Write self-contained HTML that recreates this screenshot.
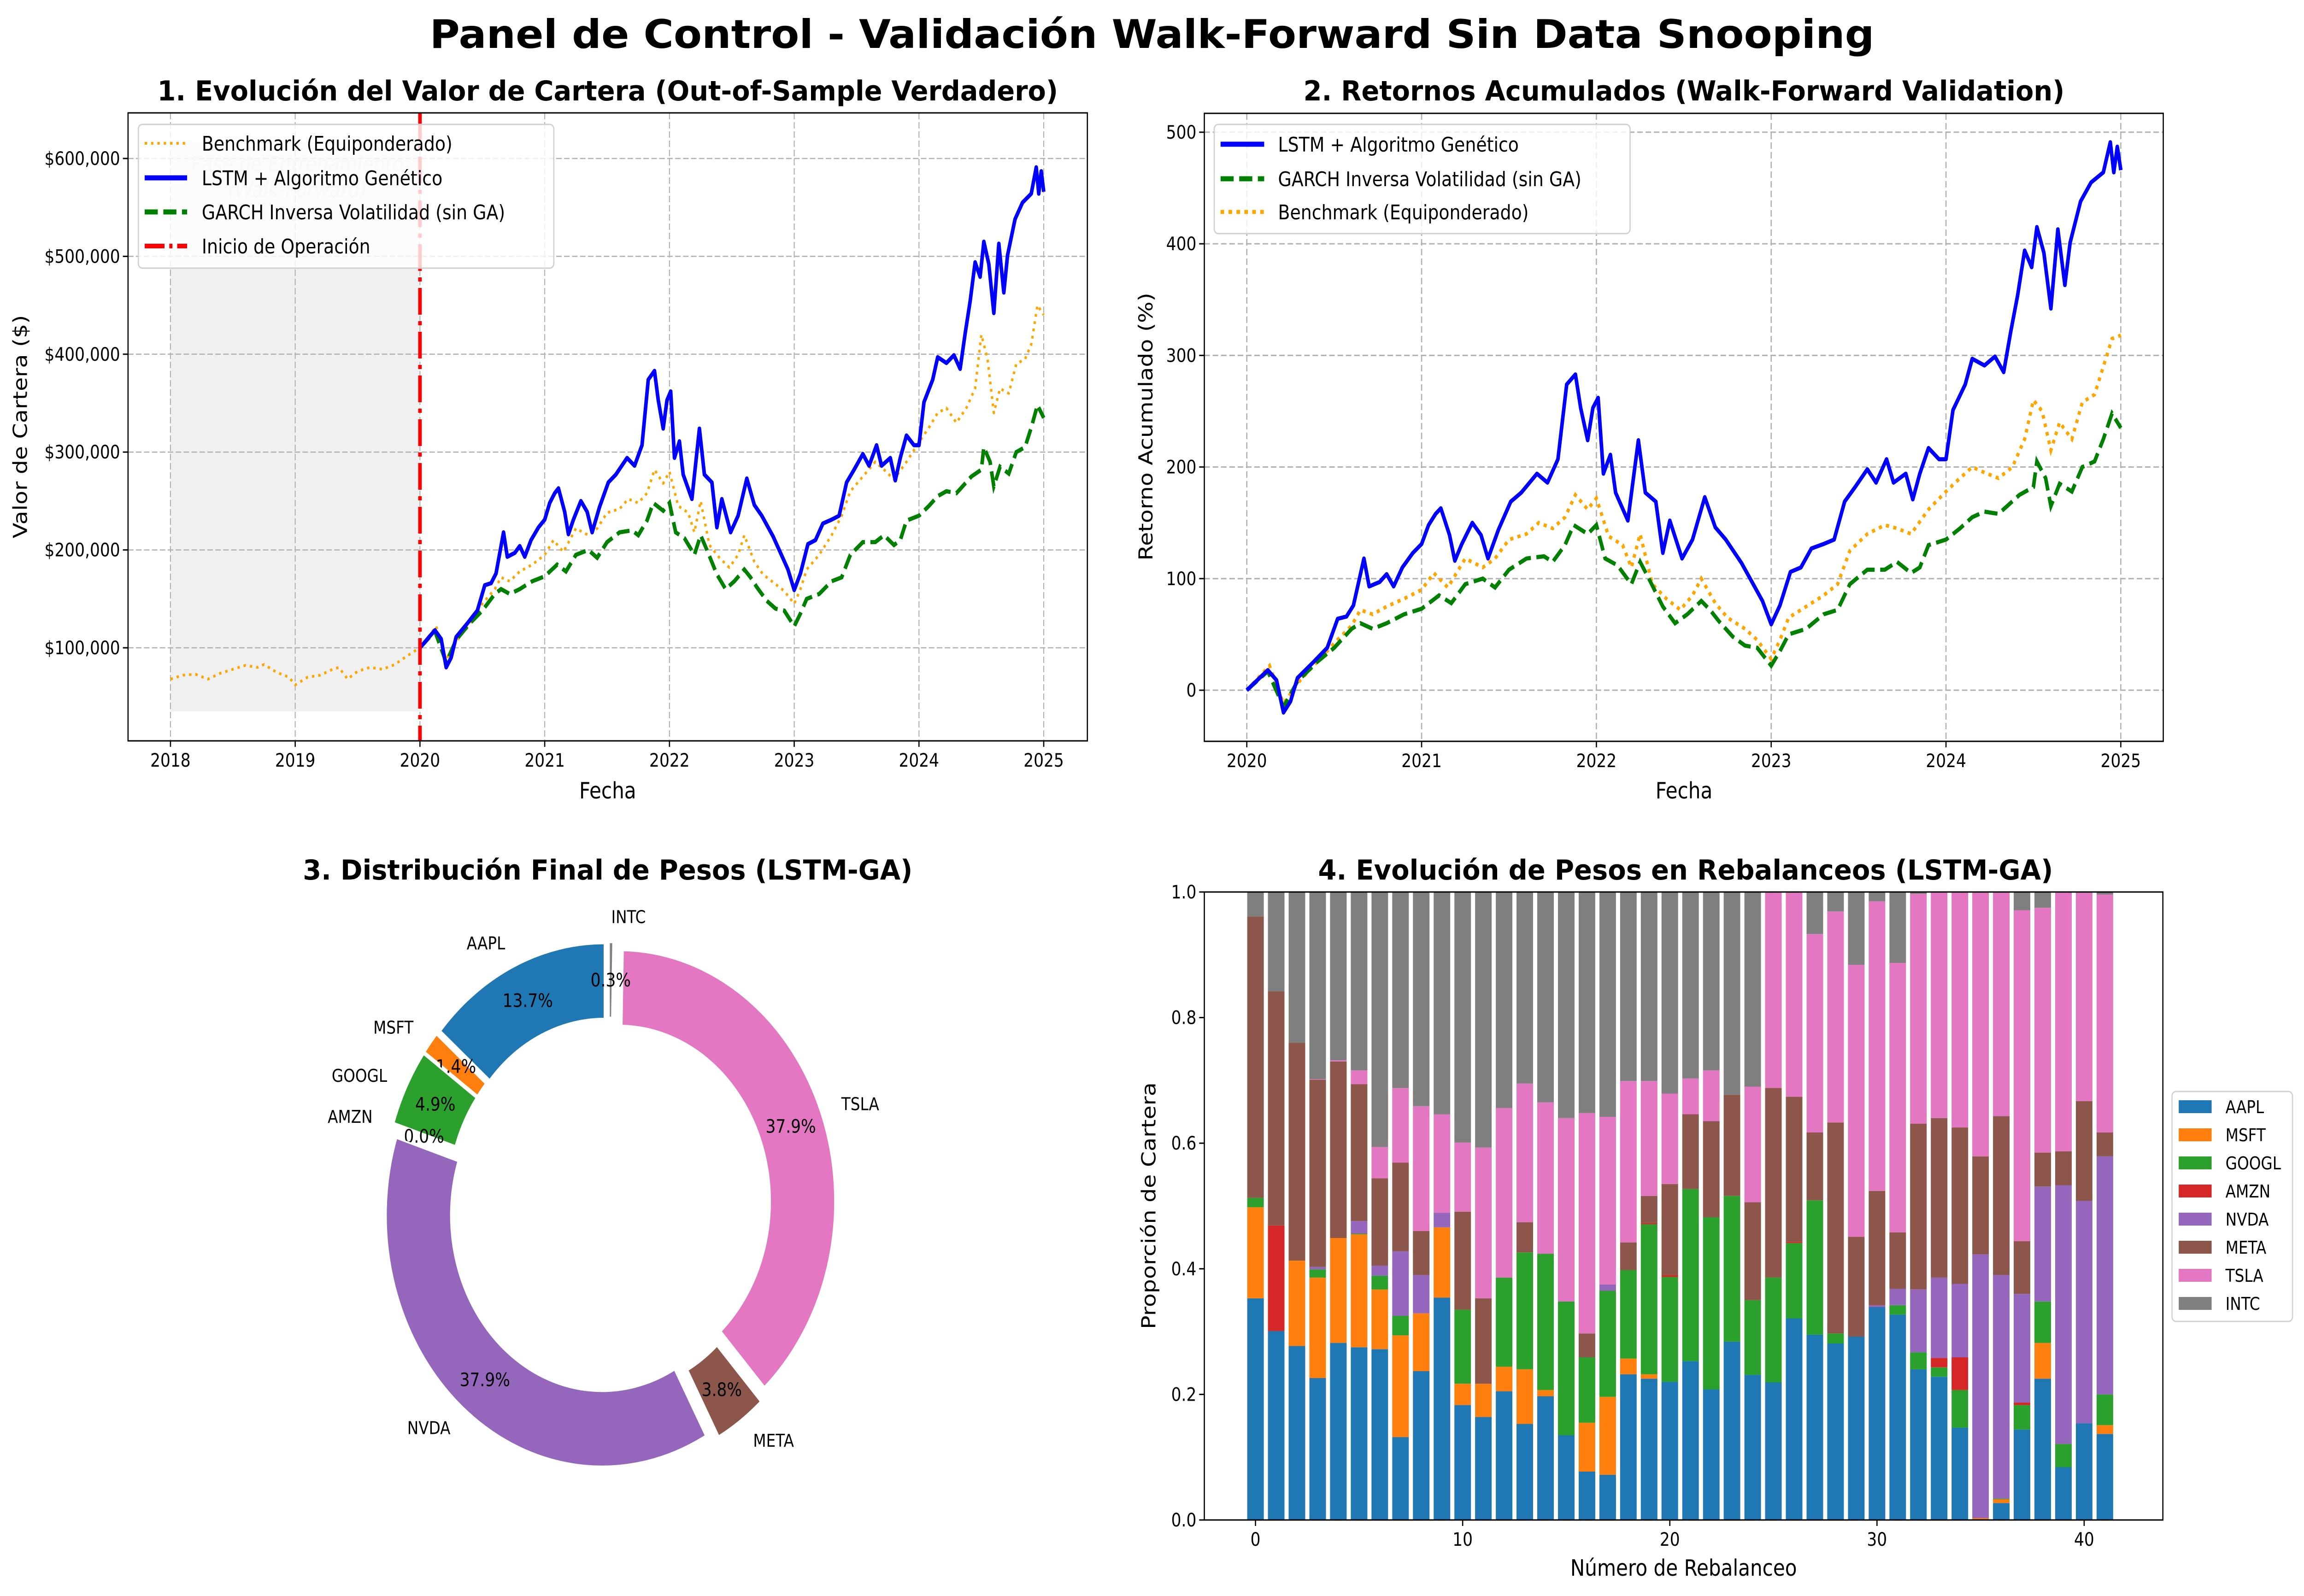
<!DOCTYPE html>
<html><head><meta charset="utf-8">
<style>
html,body{margin:0;padding:0;background:#fff;width:100%;height:100%;overflow:hidden;}
svg{display:block;width:100vw;height:100vh;font-family:"DejaVu Sans","Liberation Sans",sans-serif;}
</style></head>
<body>
<svg id="fig" xmlns="http://www.w3.org/2000/svg" viewBox="0 0 5812 3464" preserveAspectRatio="none">
<rect x="0" y="0" width="5812" height="3464" fill="#fff"/>
<text x="2906" y="104" font-size="86" font-weight="bold" text-anchor="middle" textLength="3644" lengthAdjust="spacingAndGlyphs">Panel de Control - Validación Walk-Forward Sin Data Snooping</text>
</svg>
<script>
// ---------- DATA ----------
const lstmDates = [2020.0,2020.12,2020.17,2020.21,2020.25,2020.29,2020.38,2020.46,2020.52,2020.57,2020.61,2020.67,2020.70,2020.76,2020.80,2020.84,2020.89,2020.95,2021.0,2021.04,2021.08,2021.11,2021.16,2021.19,2021.23,2021.29,2021.34,2021.38,2021.44,2021.51,2021.57,2021.66,2021.72,2021.78,2021.83,2021.88,2021.91,2021.95,2021.98,2022.01,2022.04,2022.08,2022.11,2022.18,2022.24,2022.28,2022.34,2022.38,2022.42,2022.49,2022.55,2022.62,2022.68,2022.74,2022.83,2022.89,2022.95,2023.0,2023.05,2023.11,2023.17,2023.23,2023.30,2023.36,2023.42,2023.48,2023.55,2023.60,2023.66,2023.70,2023.77,2023.81,2023.85,2023.90,2023.96,2024.0,2024.04,2024.11,2024.15,2024.22,2024.28,2024.33,2024.37,2024.41,2024.45,2024.49,2024.52,2024.56,2024.60,2024.64,2024.68,2024.71,2024.77,2024.83,2024.90,2024.94,2024.96,2024.98,2025.0];
const lstmRet = [0,18,9,-20,-10,11,25,38,64,66,76,118,93,97,104,93,110,123,131,148,158,163,139,116,131,150,139,118,144,169,177,194,186,207,274,283,253,224,253,262,194,211,177,152,224,177,169,123,152,118,135,173,146,135,114,97,80,59,76,106,110,127,131,135,169,182,198,186,207,186,194,171,194,217,207,207,251,274,297,291,299,285,321,354,394,379,415,392,342,413,363,401,438,455,464,491,464,487,466];
const garchDates = [2020.0,2020.12,2020.21,2020.29,2020.4,2020.5,2020.6,2020.65,2020.72,2020.8,2020.9,2021.0,2021.1,2021.17,2021.25,2021.35,2021.42,2021.5,2021.6,2021.7,2021.75,2021.82,2021.87,2021.95,2022.0,2022.05,2022.12,2022.2,2022.25,2022.3,2022.38,2022.45,2022.52,2022.6,2022.65,2022.7,2022.78,2022.85,2022.92,2023.0,2023.05,2023.1,2023.2,2023.3,2023.38,2023.45,2023.55,2023.65,2023.72,2023.8,2023.85,2023.9,2024.0,2024.08,2024.15,2024.22,2024.3,2024.35,2024.42,2024.5,2024.52,2024.57,2024.6,2024.65,2024.72,2024.78,2024.85,2024.9,2024.95,2025.0];
const garchRet = [0,17,-15,8,25,38,55,60,55,60,68,73,85,78,95,100,92,108,118,120,115,130,148,140,148,118,112,95,115,100,75,60,68,80,72,62,48,40,38,22,35,50,55,68,72,95,108,108,115,105,110,130,135,145,155,160,158,165,175,182,205,190,165,185,178,200,205,225,248,235];
const benchDates = [2020.0,2020.13,2020.21,2020.3,2020.4,2020.5,2020.6,2020.65,2020.72,2020.8,2020.9,2021.0,2021.07,2021.15,2021.25,2021.35,2021.42,2021.5,2021.6,2021.67,2021.75,2021.82,2021.88,2021.95,2022.0,2022.07,2022.15,2022.2,2022.25,2022.32,2022.4,2022.48,2022.55,2022.6,2022.68,2022.75,2022.85,2022.92,2023.0,2023.05,2023.1,2023.2,2023.3,2023.38,2023.45,2023.55,2023.65,2023.72,2023.8,2023.9,2024.0,2024.08,2024.15,2024.22,2024.3,2024.38,2024.45,2024.5,2024.55,2024.6,2024.65,2024.72,2024.78,2024.85,2024.9,2024.95,2025.0];
const benchRet = [0,22,-12,8,25,42,58,72,68,75,82,90,105,92,118,110,118,135,140,150,145,155,175,162,172,138,130,110,140,95,82,72,85,100,78,65,55,45,28,45,65,75,85,95,125,140,148,145,140,162,178,190,200,195,190,200,225,260,250,215,240,225,258,265,290,315,318];
const bench1Dates = [2018.0,2018.1,2018.2,2018.3,2018.4,2018.5,2018.6,2018.7,2018.75,2018.85,2018.95,2019.0,2019.1,2019.2,2019.3,2019.35,2019.42,2019.5,2019.6,2019.7,2019.8,2019.9,2020.0,2020.13,2020.21,2020.3,2020.4,2020.5,2020.6,2020.65,2020.72,2020.8,2020.9,2021.0,2021.07,2021.15,2021.25,2021.35,2021.42,2021.5,2021.6,2021.67,2021.75,2021.82,2021.88,2021.95,2022.0,2022.07,2022.15,2022.2,2022.25,2022.32,2022.4,2022.48,2022.55,2022.6,2022.68,2022.75,2022.85,2022.92,2023.0,2023.05,2023.1,2023.2,2023.3,2023.38,2023.45,2023.55,2023.65,2023.72,2023.8,2023.9,2024.0,2024.08,2024.15,2024.22,2024.3,2024.38,2024.45,2024.5,2024.55,2024.6,2024.65,2024.72,2024.78,2024.85,2024.9,2024.95,2025.0];
const bench1Vals = [68,72,73,68,74,78,82,80,83,75,70,62,70,72,78,80,68,76,80,78,83,92,100,122,88,108,125,145,160,172,168,178,185,195,210,198,222,215,222,238,242,252,248,258,282,268,280,245,238,218,250,205,192,182,195,215,188,175,165,158,145,160,180,195,215,235,260,275,290,282,272,290,310,325,340,345,330,345,365,420,395,340,365,360,390,395,410,450,440];

const tickYears1 = [2018,2019,2020,2021,2022,2023,2024,2025];
const tickVals1 = [100000,200000,300000,400000,500000,600000];
const tickYears2 = [2020,2021,2022,2023,2024,2025];
const tickVals2 = [0,100,200,300,400,500];

const tickers = ["AAPL","MSFT","GOOGL","AMZN","NVDA","META","TSLA","INTC"];
const colors = ["#1f77b4","#ff7f0e","#2ca02c","#d62728","#9467bd","#8c564b","#e377c2","#7f7f7f"];
const pieValues = [13.7,1.4,4.9,0.0,37.9,3.8,37.9,0.3];
const pieLabels = ["13.7%","1.4%","4.9%","0.0%","37.9%","3.8%","37.9%","0.3%"];

const wAAPL = [.353,.301,.277,.226,.282,.275,.272,.132,.237,.354,.183,.164,.205,.153,.197,.135,.077,.072,.232,.225,.220,.253,.208,.284,.231,.219,.321,.295,.281,.292,.339,.327,.240,.228,.147,0,.027,.144,.225,.084,.154,.137];
const wMSFT = [.145,0,.136,.160,.167,.180,.095,.162,.092,.112,.034,.053,.039,.087,.010,0,.078,.124,.025,.007,0,0,0,0,0,0,0,0,0,0,0,0,0,0,0,.003,.006,0,.057,0,0,.014];
const wGOOGL = [.015,0,0,.013,0,.001,.022,.031,0,0,.118,0,.142,.186,.217,.213,.104,.169,.141,.239,.167,.274,.274,.232,.119,.167,.120,.214,.016,0,0,.015,.027,.015,.060,0,.001,.039,.066,.037,0,.049];
const wAMZN = [0,.168,0,0,0,0,0,0,0,0,0,0,0,0,0,0,0,0,0,.002,.003,0,0,0,0,0,.002,0,0,0,0,0,0,.015,.052,0,0,.004,0,0,0,0];
const wNVDA = [0,0,0,.004,0,.020,.016,.103,.061,.023,0,0,0,0,0,0,0,.010,0,0,0,0,0,0,0,0,0,0,0,0,.003,.026,.100,.128,.117,.420,.356,.173,.183,.412,.354,.379];
const wMETA = [.448,.373,.347,.298,.281,.218,.139,.141,.070,0,.156,.136,0,.048,0,0,.038,0,.044,.043,.145,.119,.153,.161,.156,.302,.231,.108,.336,.159,.182,.090,.264,.254,.249,.156,.253,.084,.054,.054,.159,.038];
const wTSLA = [0,0,0,.001,.002,.022,.050,.119,.199,.157,.110,.240,.270,.221,.241,.292,.351,.267,.257,.183,.144,.057,.081,0,.184,.312,.326,.316,.336,.433,.461,.429,.366,.360,.375,.421,.357,.527,.390,.413,.333,.379];
const wINTC = [.039,.158,.240,.298,.268,.284,.406,.312,.341,.354,.399,.407,.344,.305,.335,.360,.352,.358,.301,.301,.321,.297,.284,.323,.310,0,0,.067,.031,.116,.015,.113,.003,0,0,0,0,.029,.025,0,0,.003];
const weightSeries = [wAAPL,wMSFT,wGOOGL,wAMZN,wNVDA,wMETA,wTSLA,wINTC];
const barTicks = [0,10,20,30,40];
const barYTicks = [0,0.2,0.4,0.6,0.8,1.0];

// ---------- helpers ----------
const NS = "http://www.w3.org/2000/svg";
const fig = document.getElementById("fig");
function mk(tag, attrs, parent){
  const e = document.createElementNS(NS, tag);
  for (const k in attrs) e.setAttribute(k, attrs[k]);
  (parent || fig).appendChild(e);
  return e;
}
function txt(str, attrs, parent){
  const e = mk("text", attrs, parent);
  e.textContent = str;
  return e;
}
function poly(xs, ys, fx, fy){
  let d = "";
  for (let i = 0; i < Math.min(xs.length, ys.length); i++){
    d += (i ? "L" : "M") + fx(xs[i]).toFixed(1) + "," + fy(ys[i]).toFixed(1);
  }
  return d;
}
const FS_TICK = 40;

// ================= PANEL 1 =================
const P1 = {l:323, r:2743, t:245, b:1608, x0:2017.66, x1:2025.35, y0:4900, y1:646600};
const x1f = d => P1.l + (d - P1.x0) / (P1.x1 - P1.x0) * (P1.r - P1.l);
const y1f = v => P1.b - (v - P1.y0) / (P1.y1 - P1.y0) * (P1.b - P1.t);
const g1 = mk("g", {});


const shade = mk("rect", {x:x1f(2018), y:y1f(617000), width:x1f(2020)-x1f(2018), height:y1f(35000)-y1f(617000), fill:"#f0f0f0"}, g1);


for (const yr of tickYears1){
  const gl = mk("line", {x1:x1f(yr), x2:x1f(yr), y1:P1.t, y2:P1.b, stroke:"#b0b0b0", "stroke-width":2.5, "stroke-dasharray":"14,6"}, g1);
  
  
  const tk = mk("line", {x1:x1f(yr), x2:x1f(yr), y1:P1.b, y2:P1.b+13, stroke:"#000", "stroke-width":3}, g1);
  
  
  const tl = txt(String(yr), {x:x1f(yr), y:P1.b+56, "font-size":FS_TICK, "text-anchor":"middle"}, g1);
  
  
}
for (const v of tickVals1){
  const gl = mk("line", {x1:P1.l, x2:P1.r, y1:y1f(v), y2:y1f(v), stroke:"#b0b0b0", "stroke-width":2.5, "stroke-dasharray":"14,6"}, g1);
  
  
  const tk = mk("line", {x1:P1.l-13, x2:P1.l, y1:y1f(v), y2:y1f(v), stroke:"#000", "stroke-width":3}, g1);
  
  
  const tl = txt("$" + v.toLocaleString("en-US"), {x:P1.l-20, y:y1f(v)+14, "font-size":FS_TICK, "text-anchor":"end"}, g1);
  
  
}
const phase1 = txt("Fase de Entrenamiento", {x:750, y:372, "font-size":46, "font-style":"italic", fill:"#dcdcdc", "text-anchor":"middle"}, g1);


const phase2 = txt("(Walk-Forward)", {x:750, y:428, "font-size":46, "font-style":"italic", fill:"#dcdcdc", "text-anchor":"middle"}, g1);



const bench1 = mk("path", {d:poly(bench1Dates, bench1Vals.map(v=>v*1000), x1f, y1f), fill:"none", stroke:"orange", "stroke-width":6, "stroke-dasharray":"6,10", "stroke-linejoin":"round"}, g1);


const garch1 = mk("path", {d:poly(garchDates, garchRet.map(r=>100000*(1+r/100)), x1f, y1f), fill:"none", stroke:"green", "stroke-width":9, "stroke-dasharray":"33,14"}, g1);


const lstm1 = mk("path", {d:poly(lstmDates, lstmRet.map(r=>100000*(1+r/100)), x1f, y1f), fill:"none", stroke:"blue", "stroke-width":9, "stroke-linejoin":"round"}, g1);


const startLine = mk("line", {x1:x1f(2020), x2:x1f(2020), y1:P1.t, y2:P1.b, stroke:"red", "stroke-width":9, "stroke-dasharray":"58,14,9,14"}, g1);


const frame1 = mk("rect", {x:P1.l, y:P1.t, width:P1.r-P1.l, height:P1.b-P1.t, fill:"none", stroke:"#000", "stroke-width":3}, g1);


const t1 = txt("1. Evolución del Valor de Cartera (Out-of-Sample Verdadero)", {x:1533, y:218, "font-size":60, "font-weight":"bold", "text-anchor":"middle", textLength:2272, lengthAdjust:"spacingAndGlyphs"}, g1);


const xl1 = txt("Fecha", {x:1533, y:1733, "font-size":49, "text-anchor":"middle"}, g1);


const yl1 = txt("Valor de Cartera ($)", {x:0, y:0, "font-size":49, "text-anchor":"middle", transform:"translate(68,926) rotate(-90)"}, g1);


const lg1 = mk("g", {}, g1);


const lb1 = mk("rect", {x:349, y:270, width:1048, height:312, rx:10, fill:"#fff", "fill-opacity":0.8, stroke:"#d0d0d0", "stroke-width":3}, lg1);


const leg1 = [
  {label:"Benchmark (Equiponderado)", stroke:"orange", w:6, dash:"6,10", y:311},
  {label:"LSTM + Algoritmo Genético", stroke:"blue", w:11, dash:"", y:386},
  {label:"GARCH Inversa Volatilidad (sin GA)", stroke:"green", w:11, dash:"33,14", y:460},
  {label:"Inicio de Operación", stroke:"red", w:10, dash:"50,12,8,12", y:534}
];
for (const it of leg1){
  const ln = mk("line", {x1:365, x2:472, y1:it.y, y2:it.y, stroke:it.stroke, "stroke-width":it.w, "stroke-dasharray":it.dash}, lg1);
  
  
  const lt = txt(it.label, {x:509, y:it.y+16, "font-size":44}, lg1);
  
  
}

// ================= PANEL 2 =================
const P2 = {l:3038, r:5457, t:246, b:1609, x0:2019.757, x1:2025.243, y0:-45.8, y1:516.9};
const x2f = d => P2.l + (d - P2.x0) / (P2.x1 - P2.x0) * (P2.r - P2.l);
const y2f = v => P2.b - (v - P2.y0) / (P2.y1 - P2.y0) * (P2.b - P2.t);
const g2 = mk("g", {});


for (const yr of tickYears2){
  const gl = mk("line", {x1:x2f(yr), x2:x2f(yr), y1:P2.t, y2:P2.b, stroke:"#b0b0b0", "stroke-width":3, "stroke-dasharray":"14,7"}, g2);
  
  
  const tk = mk("line", {x1:x2f(yr), x2:x2f(yr), y1:P2.b, y2:P2.b+13, stroke:"#000", "stroke-width":3}, g2);
  
  
  const tl = txt(String(yr), {x:x2f(yr), y:P2.b+56, "font-size":FS_TICK, "text-anchor":"middle"}, g2);
  
  
}
for (const v of tickVals2){
  const gl = mk("line", {x1:P2.l, x2:P2.r, y1:y2f(v), y2:y2f(v), stroke:"#b0b0b0", "stroke-width":3, "stroke-dasharray":"14,7"}, g2);
  
  
  const tk = mk("line", {x1:P2.l-13, x2:P2.l, y1:y2f(v), y2:y2f(v), stroke:"#000", "stroke-width":3}, g2);
  
  
  const tl = txt(String(v), {x:P2.l-20, y:y2f(v)+14, "font-size":FS_TICK, "text-anchor":"end"}, g2);
  
  
}
const bench2 = mk("path", {d:poly(benchDates, benchRet, x2f, y2f), fill:"none", stroke:"orange", "stroke-width":8, "stroke-dasharray":"8,11"}, g2);


const garch2 = mk("path", {d:poly(garchDates, garchRet, x2f, y2f), fill:"none", stroke:"green", "stroke-width":9, "stroke-dasharray":"33,14"}, g2);


const lstm2 = mk("path", {d:poly(lstmDates, lstmRet, x2f, y2f), fill:"none", stroke:"blue", "stroke-width":9, "stroke-linejoin":"round"}, g2);


const frame2 = mk("rect", {x:P2.l, y:P2.t, width:P2.r-P2.l, height:P2.b-P2.t, fill:"none", stroke:"#000", "stroke-width":3}, g2);


const t2 = txt("2. Retornos Acumulados (Walk-Forward Validation)", {x:4248, y:218, "font-size":60, "font-weight":"bold", "text-anchor":"middle", textLength:1920, lengthAdjust:"spacingAndGlyphs"}, g2);


const xl2 = txt("Fecha", {x:4248, y:1733, "font-size":49, "text-anchor":"middle"}, g2);


const yl2 = txt("Retorno Acumulado (%)", {x:0, y:0, "font-size":49, "text-anchor":"middle", transform:"translate(2907,926) rotate(-90)"}, g2);


const lg2 = mk("g", {}, g2);


const lb2 = mk("rect", {x:3063, y:270, width:1049, height:237, rx:10, fill:"#fff", "fill-opacity":0.8, stroke:"#d0d0d0", "stroke-width":3}, lg2);


const leg2 = [
  {label:"LSTM + Algoritmo Genético", stroke:"blue", w:11, dash:"", y:313},
  {label:"GARCH Inversa Volatilidad (sin GA)", stroke:"green", w:11, dash:"33,14", y:388},
  {label:"Benchmark (Equiponderado)", stroke:"orange", w:9, dash:"9,11", y:460}
];
for (const it of leg2){
  const ln = mk("line", {x1:3079, x2:3189, y1:it.y, y2:it.y, stroke:it.stroke, "stroke-width":it.w, "stroke-dasharray":it.dash}, lg2);
  
  
  const lt = txt(it.label, {x:3224, y:it.y+16, "font-size":44}, lg2);
  
  
}

// ================= PANEL 3 (donut) =================
const g3 = mk("g", {});


const t3 = txt("3. Distribución Final de Pesos (LSTM-GA)", {x:1533, y:1909, "font-size":60, "font-weight":"bold", "text-anchor":"middle", textLength:1538, lengthAdjust:"spacingAndGlyphs"}, g3);


const CX = 1536, CY = 2617, R = 545, RI = R*0.7, EXP = 27;
const pieTotal = pieValues.reduce((a,b)=>a+b, 0);
let cum = 0;
const rad = a => a * Math.PI / 180;
for (let i = 0; i < pieValues.length; i++){
  const f = pieValues[i] / pieTotal;
  const a1 = 90 + cum * 360, a2 = a1 + f * 360, am = (a1 + a2) / 2;
  cum += f;
  const cx = CX + EXP * Math.cos(rad(am)), cy = CY - EXP * Math.sin(rad(am));
  const P = (r, a) => [(cx + r*Math.cos(rad(a))).toFixed(1), (cy - r*Math.sin(rad(a))).toFixed(1)];
  const large = (a2 - a1) > 180 ? 1 : 0;
  if (f > 0){
    const o1 = P(R,a1), o2 = P(R,a2), i2 = P(RI,a2), i1 = P(RI,a1);
    const d = `M${o1}A${R},${R} 0 ${large} 0 ${o2}L${i2}A${RI},${RI} 0 ${large} 1 ${i1}Z`;
    const w = mk("path", {d:d, fill:colors[i], stroke:"#fff", "stroke-width":4}, g3);
    
    
  }
  const lp = P(R*1.1, am);
  const lab = txt(tickers[i], {x:lp[0], y:+lp[1]+13, "font-size":38, "text-anchor": Math.cos(rad(am)) >= 0 ? "start" : "end"}, g3);
  
  
  const pp = P(R*0.85, am);
  const pl = txt(pieLabels[i], {x:pp[0], y:+pp[1]+14, "font-size":40, "text-anchor":"middle"}, g3);
  
  
}

// ================= PANEL 4 (stacked bars) =================
const P4 = {l:3038, r:5456, t:1936, b:3299, x0:-2.47, x1:43.8};
const x4f = i => P4.l + (i - P4.x0) / (P4.x1 - P4.x0) * (P4.r - P4.l);
const y4f = v => P4.b - v * (P4.b - P4.t);
const g4 = mk("g", {});


const bw = (x4f(0.4) - x4f(-0.4));
for (let i = 0; i < wAAPL.length; i++){
  let base = 0;
  for (let s = 0; s < weightSeries.length; s++){
    const v = weightSeries[s][i];
    if (v > 0){
      const r = mk("rect", {x:(x4f(i)-bw/2).toFixed(1), y:y4f(base+v).toFixed(1), width:bw.toFixed(1), height:(y4f(base)-y4f(base+v)).toFixed(1), fill:colors[s]}, g4);
      
      
    }
    base += v;
  }
}
for (const v of barYTicks){
  const tk = mk("line", {x1:P4.l-13, x2:P4.l, y1:y4f(v), y2:y4f(v), stroke:"#000", "stroke-width":3}, g4);
  
  
  const tl = txt(v.toFixed(1), {x:P4.l-20, y:y4f(v)+14, "font-size":FS_TICK, "text-anchor":"end"}, g4);
  
  
}
for (const v of barTicks){
  const tk = mk("line", {x1:x4f(v), x2:x4f(v), y1:P4.b, y2:P4.b+13, stroke:"#000", "stroke-width":3}, g4);
  
  
  const tl = txt(String(v), {x:x4f(v), y:P4.b+56, "font-size":FS_TICK, "text-anchor":"middle"}, g4);
  
  
}
const frame4 = mk("rect", {x:P4.l, y:P4.t, width:P4.r-P4.l, height:P4.b-P4.t, fill:"none", stroke:"#000", "stroke-width":3}, g4);


const t4 = txt("4. Evolución de Pesos en Rebalanceos (LSTM-GA)", {x:4252, y:1909, "font-size":60, "font-weight":"bold", "text-anchor":"middle", textLength:1854, lengthAdjust:"spacingAndGlyphs"}, g4);


const xl4 = txt("Número de Rebalanceo", {x:4247, y:3420, "font-size":49, "text-anchor":"middle"}, g4);


const yl4 = txt("Proporción de Cartera", {x:0, y:0, "font-size":49, "text-anchor":"middle", transform:"translate(2915,2617) rotate(-90)"}, g4);


const lg4 = mk("g", {}, g4);


const lb4 = mk("rect", {x:5479, y:2369, width:304, height:499, rx:10, fill:"#fff", "fill-opacity":0.8, stroke:"#d0d0d0", "stroke-width":3}, lg4);


for (let s = 0; s < tickers.length; s++){
  const yy = 2402 + s * 61;
  const sw = mk("rect", {x:5496, y:yy-14, width:83, height:28, fill:colors[s]}, lg4);
  
  
  const lt = txt(tickers[s], {x:5614, y:yy+14, "font-size":38}, lg4);
  
  
}
</script>
</body></html>
